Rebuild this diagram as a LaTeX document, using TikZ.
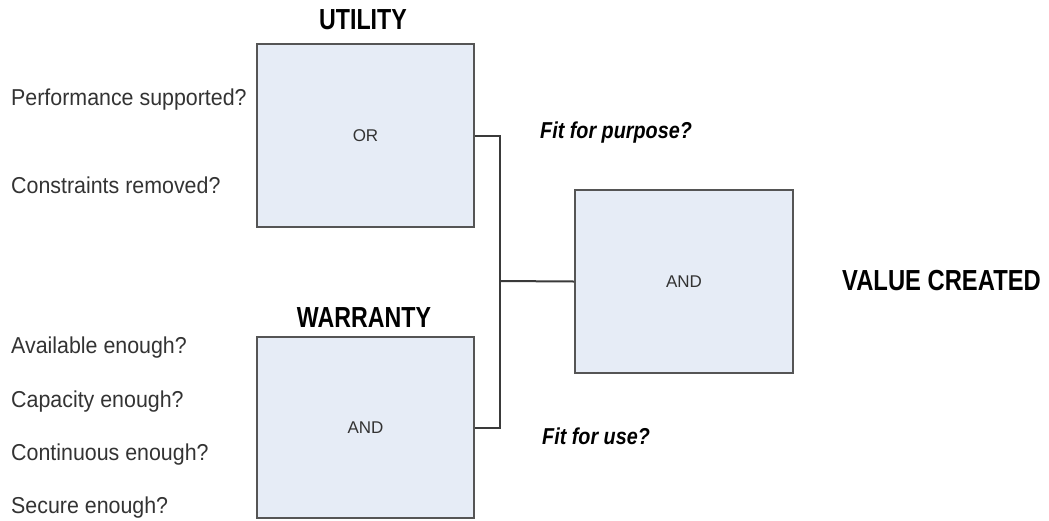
\documentclass[tikz,border=0pt]{standalone}
\usepackage{fontspec}
\setmainfont{Liberation Sans}
\usepackage{graphicx}
\definecolor{boxfill}{HTML}{E6ECF6}
\definecolor{boxline}{HTML}{555555}
\definecolor{conn}{HTML}{3A3A3A}
\newcommand{\qtxt}[1]{\scalebox{0.93}[1]{#1}}
\begin{document}
\begin{tikzpicture}[x=1pt,y=-1pt,
  gate/.style={draw=boxline,fill=boxfill,line width=2pt,inner sep=0pt,
    font=\fontsize{17}{17}\selectfont,text=black!80},
  heading/.style={font=\bfseries\fontsize{29}{29}\selectfont,inner sep=0pt},
  question/.style={font=\fontsize{23}{23}\selectfont,anchor=west,inner sep=0pt,text=black!80},
  fit/.style={font=\bfseries\itshape\fontsize{23}{23}\selectfont,anchor=west,inner sep=0pt},
  wire/.style={draw=conn,line width=2pt}]
\useasboundingbox (0,0) rectangle (1049,520);
\node[gate,minimum width=217pt,minimum height=183pt] (util) at (365.5,135.5) {OR};
\node[gate,minimum width=217pt,minimum height=181pt] (warr) at (365.5,427.5) {AND};
\node[gate,minimum width=218pt,minimum height=183pt] (val) at (684,281.5) {AND};
\node[heading] (uh) at (363,20) {\scalebox{0.8}[1]{UTILITY}};
\node[heading] (wh) at (364,318) {\scalebox{0.8}[1]{WARRANTY}};
\node[heading,anchor=west] (vc) at (842,281) {\scalebox{0.82}[1]{VALUE CREATED}};
\node[question] (q1) at (11,100) {\qtxt{Performance supported?}};
\node[question] (q2) at (11,185) {\qtxt{Constraints removed?}};
\node[question] (q3) at (11,348) {\qtxt{Available enough?}};
\node[question] (q4) at (11,402) {\qtxt{Capacity enough?}};
\node[question] (q5) at (11,455) {\qtxt{Continuous enough?}};
\node[question] (q6) at (11,508) {\qtxt{Secure enough?}};
\node[fit] (fp) at (540,133) {\scalebox{0.86}[1]{Fit for purpose?}};
\node[fit] (fu) at (542,436) {\scalebox{0.86}[1]{Fit for use?}};
\coordinate (j) at (500,281);
\draw[wire] (util.east) -| (j) |- (warr.east);
\draw[wire] (j) -- (val.west);
\end{tikzpicture}
\end{document}
